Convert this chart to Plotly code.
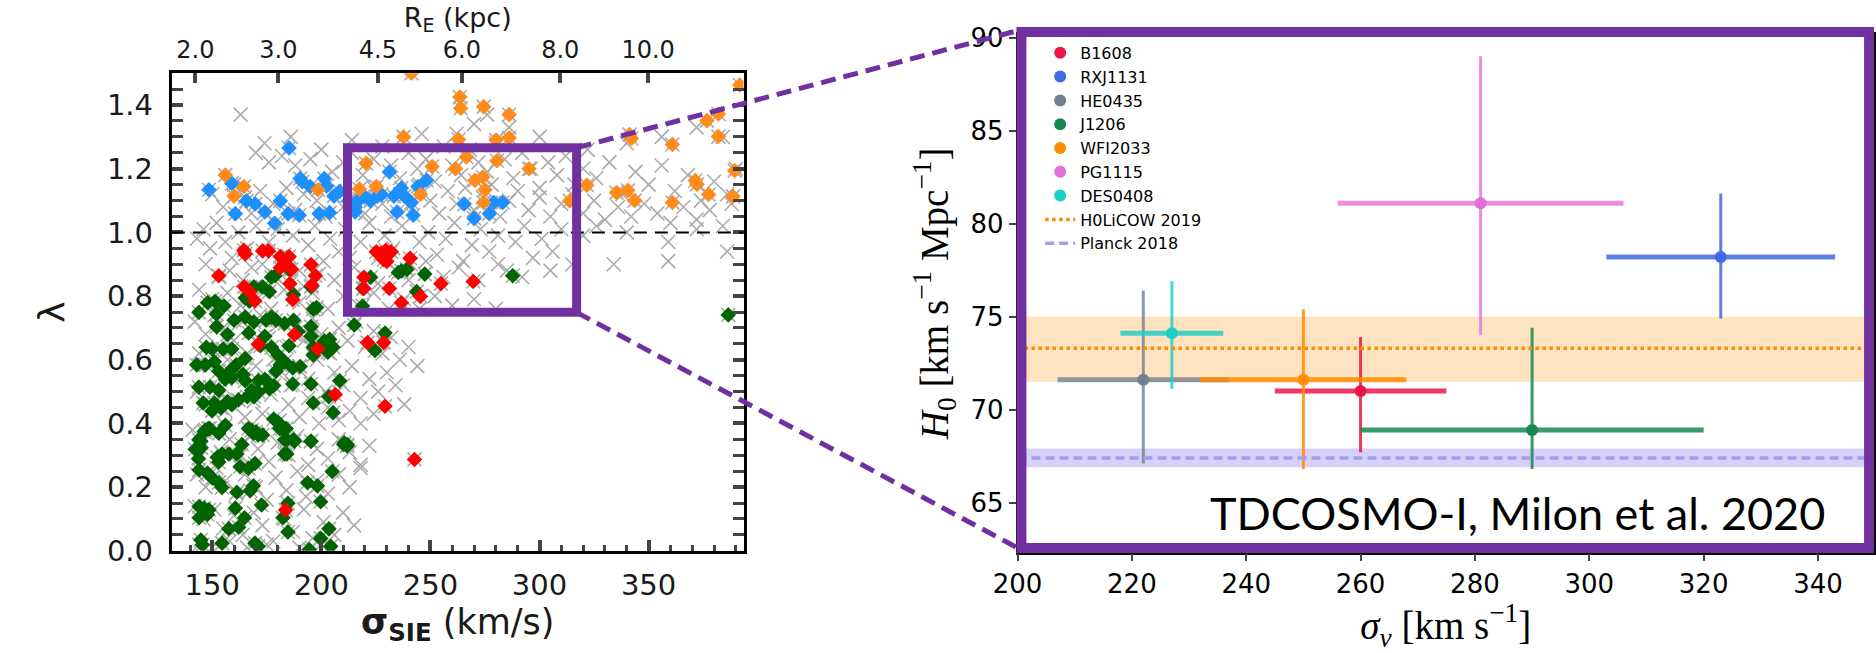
import plotly.graph_objects as go

W, H = 1876, 653

# ---------------- LEFT PANEL DATA (sigma_SIE [km/s], lambda) ----------------
GRAY = [
    (163,1.37),(170,1.25),(176,1.22),(182,1.24),(188,1.21),(195,1.23),(200,1.26),(205,1.19),(210,1.22),(214,1.25),
    (219,1.18),(224,1.23),(228,1.27),(232,1.21),(236,1.17),(240,1.25),(244,1.20),(248,1.23),(252,1.16),(256,1.27),
    (260,1.21),(264,1.18),(268,1.26),(272,1.22),(276,1.19),(280,1.28),(284,1.23),(288,1.17),(292,1.25),(296,1.20),
    (300,1.14),(304,1.22),(308,1.18),(312,1.24),(316,1.15),(320,1.20),(326,1.17),(332,1.22),(338,1.12),(344,1.19),
    (350,1.15),(356,1.21),(362,1.13),(368,1.18),(374,1.10),(380,1.16),(386,1.12),(390,1.20),
    (150,1.12),(155,1.08),(160,1.15),(165,1.11),(168,1.06),(172,1.13),(178,1.09),(184,1.14),(188,1.07),(192,1.12),
    (198,1.10),(202,1.05),(206,1.13),(210,1.08),(215,1.11),(220,1.06),(224,1.14),(228,1.09),(232,1.05),(236,1.12),
    (240,1.08),(245,1.15),(250,1.10),(254,1.06),(258,1.13),(262,1.09),(266,1.14),(270,1.07),(274,1.11),(278,1.15),
    (282,1.05),(286,1.10),(290,1.13),(295,1.07),(300,1.11),(305,1.05),(310,1.09),(315,1.12),(320,1.06),(325,1.10),
    (330,1.04),(336,1.08),(342,1.05),(348,1.09),(354,1.06),(360,1.03),(366,1.08),(372,1.04),(378,1.07),(384,1.02),(388,1.09),
    (174,1.28),(186,1.30),(214,1.29),(246,1.31),(262,1.31),(270,1.34),(276,1.37),(286,1.33),(300,1.30),(322,1.26),
    (340,1.28),(356,1.30),(372,1.33),(384,1.30),
    (143,0.98),(146,1.01),(149,0.95),(152,1.03),(156,0.97),(159,0.92),(162,1.00),(166,0.95),(170,1.02),(173,0.90),
    (176,0.97),(180,1.01),(183,0.93),(187,0.99),(190,0.88),(194,0.96),(197,1.02),(201,0.91),(204,0.98),(208,0.94),
    (211,1.01),(215,0.89),(218,0.97),(222,1.03),(226,0.92),(229,0.99),(233,0.95),(237,1.02),(241,0.90),(245,0.97),
    (249,1.00),(253,0.93),(257,0.98),(261,1.03),(265,0.91),(269,0.96),(273,1.01),(277,0.94),(281,0.99),(285,0.88),
    (289,0.97),(293,1.02),(297,0.92),(301,0.98),(306,0.94),(310,1.01),(315,0.90),(320,0.99),(326,1.02),(334,0.90),
    (340,1.00),(359,0.91),(359,0.97),(386,0.94),(372,1.01),
    (147,0.90),(153,0.86),(158,0.88),(164,0.85),(168,0.89),(179,0.86),(185,0.90),(192,0.83),(199,0.87),(206,0.85),
    (213,0.92),(220,0.86),(226,0.84),(234,0.88),(240,0.85),(248,0.91),(256,0.86),(263,0.89),(272,0.85),(281,0.90),
    (292,0.86),(305,0.88),
    (144,0.82),(150,0.79),(157,0.81),(163,0.77),(170,0.80),(177,0.76),(183,0.82),(190,0.78),(196,0.81),(203,0.76),
    (210,0.80),(217,0.77),(224,0.81),(231,0.76),(238,0.79),(245,0.76),(252,0.80),(260,0.77),(270,0.79),(280,0.76),
    (142,0.72),(147,0.68),(151,0.74),(155,0.70),(160,0.66),(164,0.72),(168,0.69),(172,0.74),(176,0.67),(180,0.71),
    (184,0.64),(188,0.70),(192,0.66),(196,0.73),(200,0.68),(204,0.62),(208,0.70),(212,0.66),(216,0.72),(220,0.64),
    (224,0.69),(228,0.62),(232,0.67),(236,0.60),(240,0.64),(244,0.58),
    (144,0.62),(149,0.58),(153,0.64),(157,0.60),(162,0.56),(166,0.62),(170,0.58),(174,0.54),(178,0.60),(182,0.56),
    (186,0.52),(190,0.58),(194,0.54),(198,0.60),(202,0.50),(206,0.56),(210,0.52),(214,0.58),(218,0.48),(222,0.54),
    (226,0.50),(230,0.56),(234,0.52),(238,0.46),
    (143,0.50),(147,0.46),(152,0.52),(156,0.44),(160,0.48),(165,0.42),(169,0.47),(173,0.43),(177,0.49),(181,0.41),
    (185,0.46),(190,0.42),(194,0.48),(199,0.40),(203,0.45),(208,0.41),(213,0.44),(218,0.40),(224,0.43),
    (141,0.38),(145,0.34),(150,0.37),(154,0.31),(158,0.35),(163,0.30),(167,0.36),(171,0.32),(176,0.28),(180,0.34),
    (185,0.30),(189,0.36),(194,0.27),(198,0.32),(203,0.29),(208,0.35),(213,0.31),(218,0.27),(222,0.33),
    (143,0.24),(147,0.20),(152,0.26),(156,0.22),(161,0.18),(165,0.24),(170,0.20),(175,0.16),(179,0.23),(184,0.19),
    (189,0.25),(193,0.17),(198,0.22),(203,0.18),(208,0.24),(213,0.20),(218,0.26),
    (142,0.14),(146,0.10),(151,0.13),(155,0.07),(160,0.11),(164,0.05),(169,0.12),(173,0.08),(178,0.03),(183,0.10),
    (187,0.06),(192,0.13),(196,0.04),(201,0.09),(206,0.05),(210,0.12),(215,0.08),
    (144,0.02),(150,0.01),(158,0.03),(166,0.01),(175,0.02),(190,0.01),(200,0.02),
]

BLUE = [
    (148.5,1.134),(159.0,1.154),(160.6,1.059),(165.7,1.099),(169.7,1.089),(174.1,1.064),(178.6,1.029),(181.2,1.099),
    (185.2,1.265),(184.8,1.059),(190.3,1.169),(191.3,1.159),(189.9,1.054),(194.9,1.144),(199.0,1.059),(201.4,1.169),
    (202.4,1.146),(203.8,1.062),(205.8,1.114),(208.4,1.129),(212.5,1.099),(215.5,1.079),(217.5,1.104),(219.5,1.114),
    (222.6,1.099),(225.6,1.114),(227.6,1.119),(231.2,1.190),(233.3,1.114),(234.7,1.064),(236.7,1.139),(238.1,1.114),
    (241.3,1.094),(242.1,1.054),(244.3,1.144),(248.2,1.164),(265.5,1.089),(270.0,1.044),(277.0,1.059),(279.0,1.094),
    (283.1,1.094),(215.5,1.064),(213.5,1.089),
]

ORANGE = [
    (156.0,1.180),(160.0,1.114),(164.5,1.144),(198.4,1.134),(217.5,1.136),(220.5,1.217),(225.2,1.144),(237.7,1.300),
    (241.3,1.500),(245.4,1.119),(250.8,1.207),(261.5,1.200),(262.9,1.292),(263.5,1.425),(263.9,1.390),(266.5,1.237),
    (270.4,1.164),(274.0,1.174),(275.0,1.134),(274.4,1.395),(274.4,1.094),(280.1,1.290),(280.5,1.225),(286.1,1.370),
    (286.1,1.297),(295.2,1.200),(313.9,1.099),
    (321.7,1.148),(335.3,1.125),(340.5,1.132),(343.6,1.100),(341.3,1.307),(342.1,1.295),(360.9,1.276),(360.9,1.094),
    (371.4,1.163),(372.2,1.151),(377.5,1.119),(376.7,1.351),(382.0,1.372),(382.0,1.301),(388.7,1.113),(389.5,1.194),
    (391.8,1.463),
]

RED = [
    (153.0,0.864),(164.5,0.944),(165.1,0.932),(173.1,0.942),(175.8,0.942),(181.2,0.924),(183.2,0.904),(185.2,0.924),
    (181.2,0.889),(186.3,0.884),(195.3,0.899),(197.3,0.864),(185.6,0.839),(195.7,0.834),(164.7,0.829),(167.1,0.814),
    (186.9,0.789),(225.2,0.939),(227.2,0.934),(229.6,0.944),(232.0,0.939),(228.6,0.914),(230.0,0.909),(240.7,0.919),
    (219.5,0.859),(231.2,0.824),(236.7,0.779),(245.4,0.799),(254.8,0.839),(269.6,0.846),(219.5,0.824),(169.5,0.785),
    (171.1,0.649),(187.7,0.679),(198.4,0.634),(206.4,0.491),(221.2,0.654),(228.6,0.654),(229.2,0.454),(242.7,0.287),
    (183.6,0.128),
]

GREEN = [
    (146.3,0.374),(144.8,0.344),(142.2,0.319),(148.2,0.384),(143.7,0.289),(144.0,0.254),(147.8,0.244),(150.0,0.229),
    (152.3,0.294),(154.5,0.304),(153.0,0.279),(157.6,0.304),(161.3,0.304),(163.6,0.334),(162.8,0.264),(166.6,0.384),
    (168.9,0.369),(171.1,0.364),(169.6,0.274),(166.6,0.259),(168.9,0.204),(167.4,0.189),(161.3,0.184),(153.0,0.214),
    (154.5,0.199),(144.0,0.139),(146.3,0.134),(148.5,0.129),(144.0,0.104),(147.8,0.114),(160.6,0.134),(172.6,0.144),
    (184.7,0.149),(182.4,0.104),(184.7,0.059),(180.9,0.384),(183.9,0.384),(183.2,0.349),(187.7,0.344),(183.2,0.304),
    (195.2,0.344),(193.7,0.214),(198.2,0.204),(199.7,0.154),(203.5,0.069),(199.7,0.039),(204.3,0.014),(194.5,0.004),
    (171.1,0.014),(169.6,0.024),(154.5,0.024),(144.8,0.034),(145.5,0.019),(157.6,0.069),(162.1,0.074),(164.8,0.104),
    (205.0,0.249),(210.3,0.334),(211.8,0.329),
    (152.0,0.704),(157.0,0.679),(147.3,0.639),(149.9,0.634),(155.0,0.634),(159.0,0.634),(142.9,0.584),(146.9,0.584),
    (151.0,0.594),(153.0,0.564),(158.0,0.564),(161.0,0.584),(156.0,0.539),(159.0,0.544),(164.1,0.554),(165.1,0.534),
    (168.1,0.504),(171.1,0.499),(171.1,0.534),(174.1,0.539),(176.2,0.509),(178.2,0.519),(169.1,0.484),(166.1,0.484),
    (162.0,0.474),(159.0,0.459),(154.0,0.449),(149.9,0.439),(145.9,0.464),(151.0,0.464),(157.0,0.469),(143.9,0.514),
    (148.9,0.514),(153.0,0.504),(146.9,0.379),(148.9,0.384),(143.9,0.349),(144.9,0.324),(156.0,0.394),(153.0,0.369),
    (168.1,0.379),(170.1,0.374),(173.1,0.364),(178.2,0.414),(180.2,0.404),(182.2,0.384),(184.2,0.349),(187.3,0.349),
    (184.2,0.304),(180.2,0.614),(183.2,0.594),(186.9,0.574),(190.3,0.579),(185.2,0.644),(189.3,0.689),(195.3,0.674),
    (196.3,0.614),(196.3,0.639),(201.4,0.659),(203.0,0.624),(203.8,0.664),(205.4,0.639),(208.4,0.534),(211.9,0.334),
    (210.5,0.339),(195.3,0.344),(186.9,0.524),(195.3,0.524),(196.3,0.464),(203.4,0.484),(205.4,0.434),(177.2,0.639),
    (160.0,0.724),(169.1,0.719),(174.7,0.724),(179.2,0.724),(183.2,0.714),(187.3,0.724),(195.3,0.704),(215.1,0.709),
    (224.6,0.629),(229.2,0.684),(181.2,0.584),(179.2,0.564),(165.1,0.604),(172.1,0.644),(174.1,0.674),(166.7,0.684),
    (143.9,0.749),(147.9,0.779),(151.3,0.784),(155.4,0.769),(151.9,0.744),(165.1,0.794),(167.1,0.784),(169.1,0.829),
    (173.1,0.829),(176.2,0.814),(177.2,0.859),(178.8,0.864),(185.2,0.884),(187.3,0.804),(195.3,0.829),(197.8,0.764),
    (196.3,0.759),(222.6,0.859),(219.1,0.824),(218.9,0.769),(235.3,0.874),(236.7,0.879),(239.3,0.884),(247.4,0.869),
    (243.7,0.814),(287.7,0.864),(165.1,0.734),(177.2,0.734),(386.5,0.741),
]

SIGMA_TICKS = [150, 200, 250, 300, 350]
LAMBDA_TICKS = [0.0, 0.2, 0.4, 0.6, 0.8, 1.0, 1.2, 1.4]
RE_LABELS = ["2.0", "3.0", "4.5", "6.0", "8.0", "10.0"]
RE_TICK_SIGMA = [142.3, 180.3, 225.9, 264.4, 309.5, 349.8]
LAMBDA_REF = 1.0
ZOOM_SIGMA = [212, 317]
ZOOM_LAMBDA = [0.749, 1.266]

# ---------------- RIGHT PANEL DATA ----------------
LENSES = ["B1608", "RXJ1131", "HE0435", "J1206", "WFI2033", "PG1115", "DES0408"]
SIGMA_V = [260, 323, 222, 290, 250, 281, 227]
SIGMA_V_LO = [245, 303, 207, 260, 232, 256, 218]
SIGMA_V_HI = [275, 343, 237, 320, 268, 306, 236]
H0 = [71.0, 78.2, 71.6, 68.9, 71.6, 81.1, 74.1]
H0_LO = [67.7, 74.9, 67.1, 66.8, 66.8, 74.0, 71.1]
H0_HI = [73.9, 81.6, 76.4, 74.4, 75.4, 89.0, 76.9]
LENS_COLORS = ["#EE1547", "#4169E1", "#708090", "#17874F", "#FF8C00", "#E070D8", "#18D0C8"]
BAR_COLORS = ["rgba(238,21,71,0.85)", "rgba(65,105,225,0.85)", "rgba(112,128,144,0.8)",
              "rgba(23,135,79,0.85)", "rgba(255,140,0,0.85)", "rgba(232,120,224,0.85)",
              "rgba(24,208,200,0.8)"]
H0LICOW = (73.3, 71.5, 75.0)   # value, low, high
PLANCK = (67.4, 66.9, 67.9)
SIGV_TICKS = [200, 220, 240, 260, 280, 300, 320, 340]
H0_TICKS = [65, 70, 75, 80, 85, 90]

PURPLE = "#7030A0"

# ---------------- geometry ----------------
LX = [149 / W, 729 / W]
LY = [1 - 564 / H, 1 - 65 / H]
LXR = [131.5, 393.5]
LYR = [0.0, 1.5]
RX = [1007 / W, 1.0]
RY = [1 - 566 / H, 1 - 24 / H]
RXR = [200, 349.8]
RYR = [62.3, 90.2]


def lp(s, l):
    x = LX[0] + (s - LXR[0]) / (LXR[1] - LXR[0]) * (LX[1] - LX[0])
    y = LY[0] + (l - LYR[0]) / (LYR[1] - LYR[0]) * (LY[1] - LY[0])
    return x, y


fig = go.Figure()

all_pts = GRAY + BLUE + ORANGE + RED + GREEN
fig.add_trace(go.Scatter(
    x=[p[0] for p in all_pts], y=[p[1] for p in all_pts], mode="markers",
    marker=dict(symbol="x-thin", size=14, line=dict(width=1.6, color="#ABABAB"), color="#ABABAB"),
    showlegend=False, xaxis="x", yaxis="y", hoverinfo="skip"))

for pts, col in [(GREEN, "#006400"), (RED, "#FF0000"), (BLUE, "#1E8FFF"), (ORANGE, "#FF8C1A")]:
    fig.add_trace(go.Scatter(
        x=[p[0] for p in pts], y=[p[1] for p in pts], mode="markers",
        marker=dict(symbol="diamond", size=12, color=col, line=dict(width=0)),
        showlegend=False, xaxis="x", yaxis="y"))

# invisible trace for the top axis
fig.add_trace(go.Scatter(x=[RE_TICK_SIGMA[0]], y=[-1], mode="markers", marker=dict(opacity=0),
                         showlegend=False, xaxis="x3", yaxis="y", hoverinfo="skip"))

# right panel error bars
for i, name in enumerate(LENSES):
    fig.add_trace(go.Scatter(
        x=[SIGMA_V[i]], y=[H0[i]], mode="markers", name=name,
        marker=dict(size=12, color=LENS_COLORS[i]),
        error_x=dict(type="data", symmetric=False, array=[SIGMA_V_HI[i] - SIGMA_V[i]],
                     arrayminus=[SIGMA_V[i] - SIGMA_V_LO[i]], thickness=5, width=0, color=BAR_COLORS[i]),
        error_y=dict(type="data", symmetric=False, array=[H0_HI[i] - H0[i]],
                     arrayminus=[H0[i] - H0_LO[i]], thickness=3, width=0, color=BAR_COLORS[i]),
        xaxis="x2", yaxis="y2"))

fig.add_trace(go.Scatter(x=RXR, y=[H0LICOW[0]] * 2, mode="lines", name="H0LiCOW 2019",
                         line=dict(color="#FF8C00", width=3.5, dash="dot"), xaxis="x2", yaxis="y2"))
fig.add_trace(go.Scatter(x=RXR, y=[PLANCK[0]] * 2, mode="lines", name="Planck 2018",
                         line=dict(color="#A39DF0", width=3.5, dash="9px,5px"), xaxis="x2", yaxis="y2"))

shapes = []
shapes.append(dict(type="rect", xref="x2 domain", yref="y2", x0=0, x1=1, y0=H0LICOW[1], y1=H0LICOW[2],
                   fillcolor="rgba(255,140,0,0.25)", line=dict(width=0), layer="below"))
shapes.append(dict(type="rect", xref="x2 domain", yref="y2", x0=0, x1=1, y0=PLANCK[1], y1=PLANCK[2],
                   fillcolor="rgba(123,104,238,0.3)", line=dict(width=0), layer="below"))
shapes.append(dict(type="line", xref="x domain", yref="y", x0=0, x1=1, y0=LAMBDA_REF, y1=LAMBDA_REF,
                   line=dict(color="black", width=2, dash="13px,8px")))
shapes.append(dict(type="rect", xref="x", yref="y", x0=ZOOM_SIGMA[0], x1=ZOOM_SIGMA[1],
                   y0=ZOOM_LAMBDA[0], y1=ZOOM_LAMBDA[1], line=dict(color=PURPLE, width=9)))
FR = [1011 / W, 1 - 561 / H, 1871 / W, 1 - 22 / H]
shapes.append(dict(type="rect", xref="paper", yref="paper", x0=FR[0], y0=FR[1], x1=FR[2], y1=FR[3],
                   line=dict(color=PURPLE, width=10)))
tr = lp(ZOOM_SIGMA[1], ZOOM_LAMBDA[1])
br = lp(ZOOM_SIGMA[1], ZOOM_LAMBDA[0])
shapes.append(dict(type="line", xref="paper", yref="paper", x0=tr[0], y0=tr[1], x1=FR[0] - 2 / W, y1=FR[3] + 2 / H,
                   line=dict(color=PURPLE, width=5, dash="15px,8px")))
shapes.append(dict(type="line", xref="paper", yref="paper", x0=br[0], y0=br[1], x1=FR[0] - 2 / W, y1=FR[1] - 1 / H,
                   line=dict(color=PURPLE, width=5, dash="15px,8px")))

LFONT = "DejaVu Sans"
fig.update_layout(
    width=W, height=H, margin=dict(l=0, r=0, t=0, b=0),
    paper_bgcolor="white", plot_bgcolor="white", shapes=shapes,
    xaxis=dict(domain=LX, range=LXR, anchor="y", tickvals=SIGMA_TICKS, ticks="inside", ticklen=11, tickwidth=3.5,
               showline=True, linewidth=3, linecolor="black", mirror=True, showgrid=False, zeroline=False,
               tickfont=dict(family=LFONT, size=29, color="#1a1a1a"), ticklabelstandoff=6,
               minor=dict(ticks="inside", ticklen=6, tickwidth=2.5, dtick=10, tick0=150, showgrid=False),
               title=dict(text="<b>σ<sub>SIE</sub></b> (km/s)", font=dict(family=LFONT, size=35, color="#1a1a1a"),
                          standoff=8)),
    xaxis3=dict(overlaying="x", side="top", anchor="y", range=LXR, tickvals=RE_TICK_SIGMA, ticktext=RE_LABELS,
                ticks="inside", ticklen=10, tickwidth=3.5, showline=False, showgrid=False, zeroline=False,
                tickfont=dict(family=LFONT, size=24, color="#1a1a1a"), ticklabelstandoff=9,
                title=dict(text="R<sub>E</sub> (kpc)", font=dict(family=LFONT, size=27, color="#1a1a1a"), standoff=0)),
    yaxis=dict(domain=LY, range=LYR, anchor="x", tickvals=LAMBDA_TICKS, tickformat=".1f", ticks="inside",
               ticklen=11, tickwidth=3.5, showline=True, linewidth=3, linecolor="black", mirror="allticks",
               showgrid=False, zeroline=False, tickfont=dict(family=LFONT, size=29, color="#1a1a1a"),
               ticklabelstandoff=10,
               minor=dict(ticks="inside", ticklen=6, tickwidth=2.5, dtick=0.05, showgrid=False),
               title=dict(text="λ", font=dict(family=LFONT, size=36, color="#1a1a1a"), standoff=32)),
    xaxis2=dict(domain=RX, range=RXR, anchor="y2", tickvals=SIGV_TICKS, ticks="outside", ticklen=7, tickwidth=1.5,
                showline=True, linewidth=1.5, linecolor="black", mirror=True, showgrid=False, zeroline=False,
                tickfont=dict(family=LFONT, size=26, color="black"),
                title=dict(text="<i>σ</i><sub><i>v</i></sub> [km s<sup>−1</sup>]",
                           font=dict(family="Liberation Serif", size=39, color="black"), standoff=6)),
    yaxis2=dict(domain=RY, range=RYR, anchor="x2", tickvals=H0_TICKS, ticks="outside", ticklen=7, tickwidth=1.5,
                showline=True, linewidth=1.5, linecolor="black", mirror=True, showgrid=False, zeroline=False,
                tickfont=dict(family=LFONT, size=26, color="black"),
                title=dict(text="<i>H</i><sub>0</sub> [km s<sup>−1</sup> Mpc<sup>−1</sup>]",
                           font=dict(family="Liberation Serif", size=39, color="black"), standoff=10)),
    legend=dict(x=1030 / W, y=1 - 26 / H, xanchor="left", yanchor="top", bgcolor="rgba(0,0,0,0)",
                font=dict(family=LFONT, size=16, color="black"), itemwidth=30),
    annotations=[dict(text="TDCOSMO-I, Milon et al. 2020", xref="paper", yref="paper", x=1514 / W, y=1 - 524 / H,
                      xanchor="center", yanchor="middle", showarrow=False,
                      font=dict(family="Lato", size=45, color="black"))],
)

fig.write_html("out.html")
